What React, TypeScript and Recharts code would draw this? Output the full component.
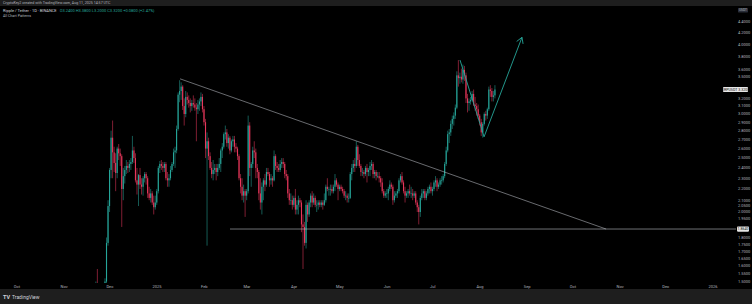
import React from "react";
import { ComposedChart, Bar, XAxis, YAxis, ReferenceLine } from "recharts";

// daily candles [open, high, low, close], first one is 2024-11-20
const nov24 = [
  [1.10, 1.16, 1.07, 1.12], [1.12, 1.42, 1.10, 1.40], [1.40, 1.50, 1.36, 1.46], [1.46, 1.58, 1.36, 1.42],
  [1.42, 1.48, 1.35, 1.44], [1.44, 1.46, 1.36, 1.40], [1.40, 1.44, 1.30, 1.39], [1.39, 1.47, 1.37, 1.46],
  [1.46, 1.52, 1.44, 1.50], [1.50, 1.80, 1.48, 1.76], [1.76, 2.10, 1.74, 2.05],
];
const dec24 = [
  [2.05, 2.40, 2.00, 2.38], [2.38, 2.80, 2.30, 2.72], [2.72, 2.92, 2.30, 2.56], [2.56, 2.62, 2.36, 2.45],
  [2.45, 2.55, 2.18, 2.35], [2.35, 2.62, 2.30, 2.60], [2.60, 2.65, 2.48, 2.55], [2.55, 2.60, 2.42, 2.52],
  [2.52, 2.54, 1.88, 2.20], [2.20, 2.40, 2.10, 2.32], [2.32, 2.42, 2.25, 2.38], [2.38, 2.48, 2.34, 2.42],
  [2.42, 2.46, 2.35, 2.40], [2.40, 2.48, 2.36, 2.44], [2.44, 2.50, 2.38, 2.46], [2.46, 2.74, 2.44, 2.58],
  [2.58, 2.62, 2.45, 2.50], [2.50, 2.55, 2.26, 2.28], [2.28, 2.40, 2.15, 2.24], [2.24, 2.34, 2.05, 2.33],
  [2.33, 2.40, 2.20, 2.24], [2.24, 2.30, 2.15, 2.22], [2.22, 2.32, 2.14, 2.30], [2.30, 2.36, 2.26, 2.34],
  [2.34, 2.36, 2.24, 2.30], [2.30, 2.32, 2.12, 2.16], [2.16, 2.22, 2.10, 2.12], [2.12, 2.20, 2.08, 2.16],
  [2.16, 2.18, 2.06, 2.08], [2.08, 2.14, 1.98, 2.04], [2.04, 2.14, 2.02, 2.08],
];
const jan25 = [
  [2.08, 2.20, 2.06, 2.18], [2.18, 2.42, 2.16, 2.40], [2.40, 2.47, 2.35, 2.44], [2.44, 2.48, 2.38, 2.42],
  [2.42, 2.46, 2.36, 2.40], [2.40, 2.46, 2.36, 2.44], [2.44, 2.46, 2.28, 2.30], [2.30, 2.36, 2.22, 2.28],
  [2.28, 2.34, 2.22, 2.30], [2.30, 2.42, 2.28, 2.38], [2.38, 2.46, 2.36, 2.44], [2.44, 2.60, 2.42, 2.56],
  [2.56, 2.62, 2.40, 2.58], [2.58, 2.86, 2.55, 2.82], [2.82, 3.28, 2.80, 3.25], [3.25, 3.45, 3.15, 3.30],
  [3.30, 3.42, 3.18, 3.36], [3.36, 3.38, 3.05, 3.10], [3.10, 3.20, 2.86, 3.00], [3.00, 3.30, 2.96, 3.22],
  [3.22, 3.28, 3.12, 3.18], [3.18, 3.24, 3.08, 3.14], [3.14, 3.20, 3.02, 3.10], [3.10, 3.18, 3.04, 3.14],
  [3.14, 3.24, 3.08, 3.12], [3.12, 3.20, 3.04, 3.08], [3.08, 3.14, 2.68, 3.06], [3.06, 3.18, 3.00, 3.12],
  [3.12, 3.20, 3.04, 3.16], [3.16, 3.28, 3.10, 3.22], [3.22, 3.26, 3.02, 3.06],
];
const feb25 = [
  [3.06, 3.10, 2.86, 2.90], [2.90, 2.94, 2.50, 2.60], [2.60, 2.78, 1.74, 2.68], [2.68, 2.72, 2.48, 2.52],
  [2.52, 2.56, 2.38, 2.40], [2.40, 2.46, 2.30, 2.34], [2.34, 2.48, 2.28, 2.38], [2.38, 2.44, 2.34, 2.40],
  [2.40, 2.44, 2.28, 2.36], [2.36, 2.44, 2.32, 2.40], [2.40, 2.50, 2.38, 2.44], [2.44, 2.60, 2.36, 2.58],
  [2.58, 2.66, 2.50, 2.62], [2.62, 2.78, 2.60, 2.76], [2.76, 2.86, 2.70, 2.78], [2.78, 2.82, 2.62, 2.66],
  [2.66, 2.76, 2.60, 2.72], [2.72, 2.74, 2.54, 2.58], [2.58, 2.70, 2.56, 2.68], [2.68, 2.74, 2.62, 2.70],
  [2.70, 2.74, 2.56, 2.62], [2.62, 2.66, 2.56, 2.60], [2.60, 2.62, 2.48, 2.52], [2.52, 2.54, 2.28, 2.30],
  [2.30, 2.34, 2.16, 2.22], [2.22, 2.30, 2.10, 2.14], [2.14, 2.24, 2.08, 2.18], [2.18, 2.20, 1.96, 2.14],
];
const mar25 = [
  [2.14, 2.20, 2.10, 2.18], [2.18, 2.98, 2.16, 2.86], [2.86, 2.90, 2.32, 2.40], [2.40, 2.46, 2.22, 2.44],
  [2.44, 2.62, 2.40, 2.58], [2.58, 2.68, 2.50, 2.56], [2.56, 2.60, 2.30, 2.40], [2.40, 2.44, 2.30, 2.36],
  [2.36, 2.38, 2.10, 2.16], [2.16, 2.30, 2.02, 2.08], [2.08, 2.26, 1.98, 2.22], [2.22, 2.30, 2.10, 2.28],
  [2.28, 2.34, 2.18, 2.24], [2.24, 2.40, 2.22, 2.36], [2.36, 2.40, 2.32, 2.34], [2.34, 2.36, 2.22, 2.28],
  [2.28, 2.34, 2.24, 2.30], [2.30, 2.32, 2.22, 2.28], [2.28, 2.58, 2.27, 2.52], [2.52, 2.54, 2.38, 2.42],
  [2.42, 2.46, 2.36, 2.40], [2.40, 2.44, 2.36, 2.38], [2.38, 2.48, 2.36, 2.44], [2.44, 2.50, 2.40, 2.46],
  [2.46, 2.50, 2.40, 2.44], [2.44, 2.46, 2.30, 2.34], [2.34, 2.38, 2.28, 2.32], [2.32, 2.34, 2.12, 2.16],
  [2.16, 2.20, 2.06, 2.10], [2.10, 2.16, 2.06, 2.10], [2.10, 2.14, 2.02, 2.06],
];
const apr25 = [
  [2.06, 2.14, 2.04, 2.12], [2.12, 2.20, 1.98, 2.02], [2.02, 2.10, 1.98, 2.06], [2.06, 2.14, 1.98, 2.10],
  [2.10, 2.12, 2.04, 2.08], [2.08, 2.10, 1.84, 1.90], [1.90, 1.98, 1.58, 1.88], [1.88, 1.92, 1.74, 1.76],
  [1.76, 2.10, 1.72, 2.06], [2.06, 2.08, 1.92, 1.98], [1.98, 2.10, 1.96, 2.08], [2.08, 2.16, 2.04, 2.14],
  [2.14, 2.18, 2.04, 2.08], [2.08, 2.16, 2.06, 2.12], [2.12, 2.14, 2.04, 2.06], [2.06, 2.10, 2.00, 2.06],
  [2.06, 2.10, 2.02, 2.08], [2.08, 2.10, 2.04, 2.06], [2.06, 2.10, 2.04, 2.08], [2.08, 2.10, 2.02, 2.06],
  [2.06, 2.16, 2.05, 2.10], [2.10, 2.24, 2.08, 2.22], [2.22, 2.30, 2.18, 2.20], [2.20, 2.22, 2.14, 2.20],
  [2.20, 2.24, 2.14, 2.20], [2.20, 2.24, 2.16, 2.18], [2.18, 2.24, 2.16, 2.22], [2.22, 2.34, 2.18, 2.28],
  [2.28, 2.30, 2.22, 2.24], [2.24, 2.26, 2.10, 2.20],
];
const may25 = [
  [2.20, 2.24, 2.18, 2.22], [2.22, 2.24, 2.18, 2.20], [2.20, 2.22, 2.16, 2.18], [2.18, 2.20, 2.12, 2.14],
  [2.14, 2.18, 2.10, 2.14], [2.14, 2.16, 2.08, 2.12], [2.12, 2.16, 2.08, 2.12], [2.12, 2.36, 2.11, 2.34],
  [2.34, 2.44, 2.28, 2.40], [2.40, 2.48, 2.36, 2.44], [2.44, 2.50, 2.36, 2.42], [2.42, 2.68, 2.40, 2.62],
  [2.62, 2.64, 2.42, 2.48], [2.48, 2.54, 2.40, 2.42], [2.42, 2.44, 2.32, 2.36], [2.36, 2.40, 2.32, 2.36],
  [2.36, 2.38, 2.30, 2.34], [2.34, 2.42, 2.32, 2.40], [2.40, 2.44, 2.26, 2.36], [2.36, 2.40, 2.32, 2.38],
  [2.38, 2.46, 2.32, 2.42], [2.42, 2.48, 2.38, 2.44], [2.44, 2.46, 2.30, 2.34], [2.34, 2.38, 2.30, 2.36],
  [2.36, 2.38, 2.28, 2.32], [2.32, 2.36, 2.30, 2.32], [2.32, 2.36, 2.26, 2.30], [2.30, 2.32, 2.22, 2.26],
  [2.26, 2.30, 2.16, 2.18], [2.18, 2.20, 2.12, 2.14], [2.14, 2.18, 2.12, 2.16],
];
const jun25 = [
  [2.16, 2.20, 2.12, 2.16], [2.16, 2.22, 2.10, 2.20], [2.20, 2.28, 2.18, 2.24], [2.24, 2.26, 2.20, 2.22],
  [2.22, 2.24, 2.06, 2.10], [2.10, 2.18, 2.08, 2.14], [2.14, 2.18, 2.12, 2.16], [2.16, 2.20, 2.12, 2.18],
  [2.18, 2.30, 2.16, 2.28], [2.28, 2.34, 2.26, 2.32], [2.32, 2.36, 2.24, 2.26], [2.26, 2.28, 2.16, 2.18],
  [2.18, 2.22, 2.08, 2.14], [2.14, 2.18, 2.12, 2.16], [2.16, 2.20, 2.12, 2.18], [2.18, 2.24, 2.14, 2.16],
  [2.16, 2.22, 2.12, 2.16], [2.16, 2.20, 2.10, 2.14], [2.14, 2.18, 2.12, 2.16], [2.16, 2.18, 2.06, 2.08],
  [2.08, 2.10, 2.00, 2.04], [2.04, 2.06, 1.90, 2.00], [2.00, 2.14, 1.96, 2.12], [2.12, 2.20, 2.10, 2.16],
  [2.16, 2.20, 2.12, 2.18], [2.18, 2.20, 2.10, 2.12], [2.12, 2.18, 2.10, 2.16], [2.16, 2.22, 2.14, 2.20],
  [2.20, 2.24, 2.16, 2.22], [2.22, 2.26, 2.16, 2.18],
];
const jul25 = [
  [2.18, 2.22, 2.14, 2.20], [2.20, 2.28, 2.18, 2.26], [2.26, 2.32, 2.22, 2.28], [2.28, 2.30, 2.18, 2.22],
  [2.22, 2.26, 2.20, 2.24], [2.24, 2.30, 2.22, 2.28], [2.28, 2.32, 2.24, 2.28], [2.28, 2.34, 2.26, 2.32],
  [2.32, 2.46, 2.30, 2.44], [2.44, 2.62, 2.42, 2.58], [2.58, 2.80, 2.56, 2.76], [2.76, 2.82, 2.66, 2.78],
  [2.78, 2.92, 2.74, 2.88], [2.88, 2.98, 2.82, 2.94], [2.94, 3.02, 2.86, 2.98], [2.98, 3.12, 2.94, 3.08],
  [3.08, 3.58, 3.06, 3.52], [3.52, 3.75, 3.36, 3.48], [3.48, 3.56, 3.40, 3.50], [3.50, 3.62, 3.42, 3.46],
  [3.46, 3.68, 3.40, 3.60], [3.60, 3.66, 3.44, 3.52], [3.52, 3.56, 3.14, 3.20], [3.20, 3.26, 3.02, 3.14],
  [3.14, 3.20, 3.04, 3.16], [3.16, 3.22, 3.12, 3.18], [3.18, 3.30, 3.16, 3.26], [3.26, 3.32, 3.10, 3.12],
  [3.12, 3.22, 3.04, 3.10], [3.10, 3.14, 2.98, 3.06], [3.06, 3.12, 2.94, 2.98],
];
const aug25 = [
  [2.98, 3.00, 2.86, 2.90], [2.90, 2.94, 2.74, 2.78], [2.78, 2.90, 2.72, 2.88], [2.88, 3.02, 2.86, 3.00],
  [3.00, 3.04, 2.92, 2.98], [2.98, 3.08, 2.94, 3.06], [3.06, 3.36, 3.04, 3.32], [3.32, 3.38, 3.22, 3.30],
  [3.30, 3.34, 3.16, 3.22], [3.22, 3.30, 3.16, 3.24], [3.24, 3.38, 3.20, 3.32],
];

// day index 0 = 2025-01-01
const firstDay = -42;
const monthTicks = [-92, -61, -31, 0, 31, 59, 90, 120, 151, 181, 212, 243, 273, 304, 334, 365];
const monthLabels = ["Oct", "Nov", "Dec", "2025", "Feb", "Mar", "Apr", "May", "Jun", "Jul", "Aug", "Sep", "Oct", "Nov", "Dec", "2026"];
const priceTicks = [4.4, 4.2, 4.0, 3.8, 3.6, 3.5, 3.2, 3.1, 3.0, 2.9, 2.8, 2.7, 2.6, 2.5, 2.4, 2.3, 2.2, 2.1, 2.05, 2.0, 1.95, 1.8, 1.75, 1.7, 1.65, 1.6, 1.55, 1.5];

// drawings (day index, price)
const trendLine = [{ x: 15.1, y: 3.47 }, { x: 294.8, y: 1.864 }];
const supportLine = [{ x: 47.9, y: 1.864 }, { x: 380.1, y: 1.864 }];
const projection = [{ x: 198.9, y: 3.75 }, { x: 214.7, y: 2.73 }, { x: 239.6, y: 4.12 }];
const arrowHead = [{ x: 236.1, y: 4.05 }, { x: 239.6, y: 4.12 }, { x: 240.3, y: 4.01 }];

const UP = "#26a69a";
const DOWN = "#e8375b";
const TEXT = "#b2b5be";
const DRAW = "#c8cbd2";

const candles = [nov24, dec24, jan25, feb25, mar25, apr25, may25, jun25, jul25, aug25]
  .flat()
  .map((c, i) => ({ d: firstDay + i, open: c[0], high: c[1], low: c[2], close: c[3], range: [c[2], c[1]] }));

const last = candles[candles.length - 1];
const prev = candles[candles.length - 2];

const Candle = (props: any) => {
  const { x, y, width, height, payload } = props;
  if (height == null || !payload) return null;
  const { open, high, low, close } = payload;
  const span = Math.log(high) - Math.log(low);
  const at = (v: number) => y + (span > 0 ? (height * (Math.log(high) - Math.log(v))) / span : 0);
  const color = close >= open ? UP : DOWN;
  const cx = x + width / 2;
  const top = at(Math.max(open, close));
  const bot = at(Math.min(open, close));
  return (
    <g>
      <line x1={cx} x2={cx} y1={y} y2={y + height} stroke={color} strokeWidth={0.55} />
      <rect x={cx - 0.55} y={top} width={1.1} height={Math.max(bot - top, 0.6)} fill={color} />
    </g>
  );
};

const TimeTick = ({ x, y, payload }: any) => (
  <text x={x} y={y + 4.6} fontSize={4} fill={TEXT} textAnchor="middle">
    {monthLabels[monthTicks.indexOf(payload.value)]}
  </text>
);

const PriceTick = ({ x, y, payload }: any) => (
  <text x={x} y={y} dy={1.4} fontSize={4} fill={TEXT} textAnchor="start">
    {Number(payload.value).toFixed(4)}
  </text>
);

const AxisTag = ({ viewBox, text, x0, w, bg, fg }: any) => {
  if (!viewBox) return null;
  const y = viewBox.y;
  return (
    <g>
      <rect x={x0} y={y - 2.6} width={w} height={5.2} rx={0.8} fill={bg} />
      <text x={x0 + w / 2} y={y} dy={1.3} fontSize={3.6} fill={fg} textAnchor="middle">{text}</text>
    </g>
  );
};

const change = last.close - prev.close;

export default function App() {
  return (
    <div style={{ position: "fixed", left: 0, top: 0, width: 752, height: 304, background: "#000", overflow: "hidden", fontFamily: "Roboto, 'Noto Sans', sans-serif" }}>
      <div style={{ position: "absolute", left: 0, top: 6 }}>
        <ComposedChart width={752} height={283} data={candles} margin={{ top: 0, right: 0, bottom: 0, left: 0 }}>
          <XAxis
            dataKey="d"
            type="number"
            domain={[-103.1, 380.1]}
            allowDataOverflow
            ticks={monthTicks}
            interval={0}
            height={6}
            tickSize={0}
            tickMargin={0}
            axisLine={false}
            tickLine={false}
            tick={<TimeTick />}
          />
          <YAxis
            orientation="right"
            scale="log"
            domain={[1.491, 4.69]}
            allowDataOverflow
            ticks={priceTicks}
            interval={0}
            width={16}
            tickSize={0}
            tickMargin={2}
            axisLine={false}
            tickLine={false}
            tick={<PriceTick />}
          />
          <Bar dataKey="range" barSize={1} shape={<Candle />} isAnimationActive={false} />
          <ReferenceLine segment={trendLine} stroke={DRAW} strokeOpacity={0.75} strokeWidth={0.7} ifOverflow="visible" />
          <ReferenceLine
            segment={supportLine}
            stroke={DRAW}
            strokeOpacity={0.8}
            strokeWidth={0.7}
            ifOverflow="visible"
            label={<AxisTag text={supportLine[0].y.toFixed(4)} x0={737} w={12} bg="#e6e6e6" fg="#111" />}
          />
          <ReferenceLine segment={[projection[0], projection[1]]} stroke={UP} strokeWidth={0.9} ifOverflow="visible" />
          <ReferenceLine segment={[projection[1], projection[2]]} stroke={UP} strokeWidth={0.9} ifOverflow="visible" />
          <ReferenceLine segment={[arrowHead[0], arrowHead[1]]} stroke={UP} strokeWidth={0.9} ifOverflow="visible" />
          <ReferenceLine segment={[arrowHead[1], arrowHead[2]]} stroke={UP} strokeWidth={0.9} ifOverflow="visible" />
          <ReferenceLine
            y={last.close}
            stroke="none"
            strokeOpacity={0}
            ifOverflow="visible"
            label={<AxisTag text={`XRPUSDT  ${last.close.toFixed(4)}`} x0={723} w={25} bg="#e6e6e6" fg="#111" />}
          />
        </ComposedChart>
      </div>
      <svg width={752} height={304} style={{ position: "absolute", left: 0, top: 0, pointerEvents: "none" }}>
        <rect x={0} y={0} width={752} height={6} fill="#1e1e1e" />
        <text x={3} y={4.3} fontSize={3.6} fill={TEXT}>CryptoKey2 created with TradingView.com, Aug 11, 2025 14:57 UTC</text>
        <text x={3} y={11.5} fontSize={4} fill="#d1d4dc">
          Ripple / Tether · 1D · BINANCE
          <tspan fill={UP} dx={3}>{`O${last.open.toFixed(4)} H${last.high.toFixed(4)} L${last.low.toFixed(4)} C${last.close.toFixed(4)} +${change.toFixed(4)} (+${((change / prev.close) * 100).toFixed(2)}%)`}</tspan>
        </text>
        <text x={3} y={16.5} fontSize={3.6} fill={TEXT}>All Chart Patterns</text>
        <rect x={738} y={8} width={10} height={4.4} rx={0.6} fill="#2a2e39" />
        <text x={743} y={11.3} fontSize={3.2} fill={TEXT} textAnchor="middle">USDT</text>
        <rect x={0} y={289} width={752} height={15} fill="#1e1e1e" />
        <text x={3} y={298.5} fontSize={5.5} fontWeight={700} fill="#d1d4dc">TV</text>
        <text x={12} y={298.5} fontSize={5} fill="#d1d4dc">TradingView</text>
      </svg>
    </div>
  );
}
